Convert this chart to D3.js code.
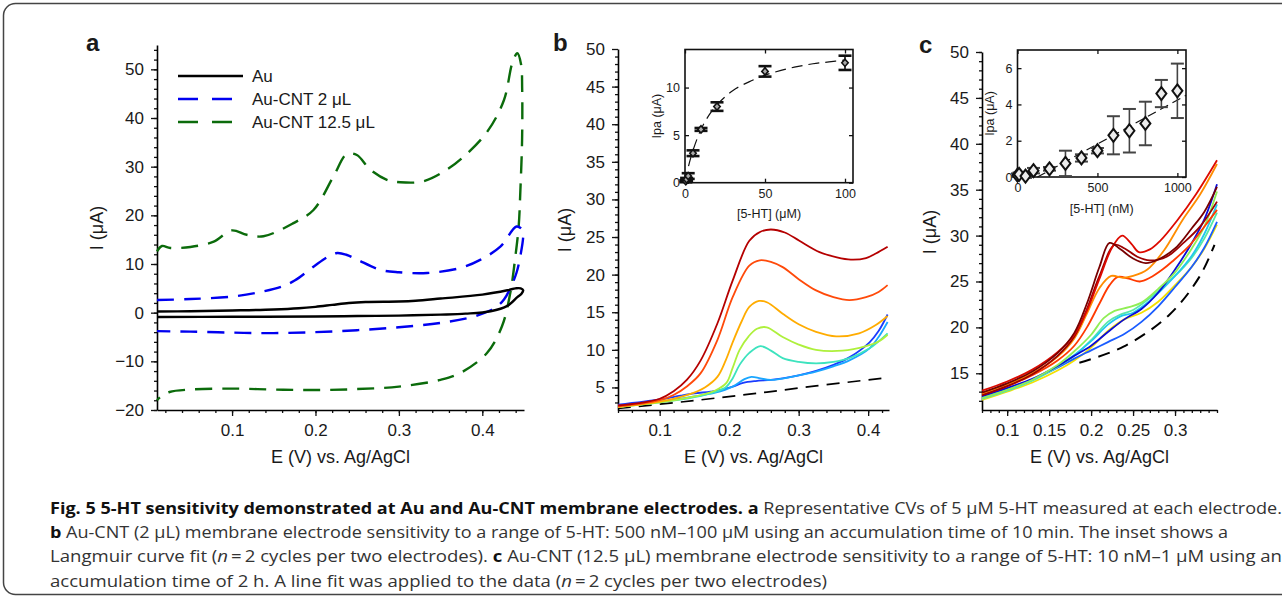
<!DOCTYPE html>
<html>
<head>
<meta charset="utf-8">
<script src="https://cdn.jsdelivr.net/npm/d3@7"></script>
<style>
body { margin: 0; background: #fff; }
svg text { font-family: "Liberation Sans", Arial, sans-serif; fill: #1a1a1a; }
.cap text, text.cap { font-family: "Open Sans", "Noto Sans", sans-serif; }
</style>
</head>
<body>
<div id="chart"></div>
<script>
// ---------- panel a : CVs (E in V, I in uA), points in scan order ----------
const aAu = [[0.01,0.25],[0.05,0.3],[0.1,0.45],[0.15,0.65],[0.18,0.9],[0.2,1.2],[0.22,1.6],[0.24,2.0],[0.26,2.2],
  [0.3,2.3],[0.32,2.45],[0.35,2.9],[0.4,3.7],[0.43,4.6],[0.44,5.0],[0.446,5.0],[0.449,4.6],[0.447,3.9],[0.442,3.2],
  [0.43,1.4],[0.41,0.3],[0.38,-0.2],[0.35,-0.4],[0.3,-0.6],[0.25,-0.7],[0.2,-0.8],[0.1,-0.85],[0.01,-0.9]];
const aCnt2 = [[0.01,2.6],[0.05,2.8],[0.1,3.3],[0.135,4.3],[0.16,5.4],[0.175,6.6],[0.198,9.5],[0.215,11.5],[0.226,12.25],
  [0.237,11.9],[0.25,10.9],[0.278,8.8],[0.3,8.3],[0.334,8.15],[0.374,9.2],[0.398,10.9],[0.422,13.6],[0.441,17.7],
  [0.448,17.0],[0.449,15.7],[0.446,12.0],[0.441,8.2],[0.433,4.8],[0.426,2.7],[0.418,1.3],[0.41,0.5],[0.39,-0.8],
  [0.35,-2.1],[0.3,-3.0],[0.25,-3.6],[0.2,-4.0],[0.15,-4.2],[0.1,-4.1],[0.05,-3.9],[0.01,-3.8]];
const aCnt12 = [[0.01,12.6],[0.016,13.7],[0.026,13.3],[0.05,13.5],[0.078,14.6],[0.0996,16.9],[0.1176,16.0],[0.1376,15.7],
  [0.1736,18.4],[0.1976,21.1],[0.2216,28.0],[0.2376,32.6],[0.2496,32.4],[0.2656,29.4],[0.2856,27.3],[0.3016,26.8],
  [0.3296,27.0],[0.3576,29.4],[0.378,32.1],[0.406,37.2],[0.426,43.7],[0.436,51.3],[0.442,53.3],[0.4465,51.0],
  [0.4478,46.0],[0.4477,35.5],[0.4457,25.3],[0.4436,17.7],[0.4397,11.6],[0.4336,4.1],[0.4236,-2.8],[0.4056,-8.3],
  [0.3736,-12.4],[0.35,-13.8],[0.3,-15.2],[0.25,-15.7],[0.2,-15.9],[0.15,-15.8],[0.1,-15.6],[0.05,-15.8],
  [0.025,-16.3],[0.015,-17.2],[0.01,-18.0]];
const aNames = ["Au", "Au-CNT 2 \u03bcL", "Au-CNT 12.5 \u03bcL"];
const aXTicks = [0.1, 0.2, 0.3, 0.4];
const aYTicks = [-20, -10, 0, 10, 20, 30, 40, 50];

// ---------- panel b : 2 uL electrode, 5-HT series ----------
const bDark = [[0.04,2.6],[0.07,2.9],[0.1,3.5],[0.12,4.5],[0.139,6.0],[0.159,8.6],[0.183,13.5],[0.205,19.2],[0.229,24.5],
  [0.245,25.7],[0.26,26.0],[0.28,25.6],[0.301,24.5],[0.33,23.0],[0.355,22.3],[0.375,22.0],[0.397,22.2],[0.411,22.8],[0.428,23.7]];
const bRed = [[0.04,2.5],[0.07,2.8],[0.1,3.3],[0.12,4.0],[0.14,5.2],[0.159,6.9],[0.183,11.3],[0.205,17.0],[0.229,21.2],
  [0.244,21.9],[0.26,21.7],[0.277,21.0],[0.3,19.4],[0.325,17.9],[0.35,17.0],[0.373,16.6],[0.397,17.0],[0.415,17.7],[0.428,18.6]];
const bOrange = [[0.04,2.4],[0.1,3.1],[0.14,4.0],[0.165,5.0],[0.183,6.4],[0.195,8.6],[0.205,11.0],[0.218,13.8],[0.229,15.7],
  [0.243,16.5],[0.255,16.3],[0.277,14.8],[0.3,13.4],[0.325,12.4],[0.354,11.8],[0.387,12.2],[0.411,13.3],[0.428,14.5]];
const bLime = [[0.04,2.4],[0.1,3.0],[0.15,3.8],[0.18,4.6],[0.196,5.6],[0.205,7.6],[0.215,10.0],[0.228,11.8],[0.24,12.8],
  [0.254,13.0],[0.277,11.7],[0.3,10.7],[0.325,10.0],[0.363,9.9],[0.397,10.5],[0.415,11.1],[0.428,12.0]];
const bTeal = [[0.04,2.4],[0.1,3.0],[0.15,3.7],[0.18,4.4],[0.196,5.1],[0.205,6.2],[0.215,8.0],[0.229,9.6],[0.245,10.5],
  [0.26,9.9],[0.277,8.9],[0.3,8.4],[0.325,8.2],[0.35,8.4],[0.373,8.9],[0.402,10.2],[0.428,12.2]];
const bSky = [[0.04,2.5],[0.1,3.1],[0.15,3.8],[0.18,4.3],[0.205,5.1],[0.222,6.1],[0.232,6.4],[0.245,6.2],[0.26,6.0],
  [0.3,6.6],[0.325,7.1],[0.35,7.8],[0.373,8.6],[0.402,10.2],[0.415,11.7],[0.428,13.7]];
const bBlue = [[0.04,2.7],[0.1,3.4],[0.13,3.9],[0.15,4.2],[0.173,4.45],[0.19,4.7],[0.205,5.1],[0.22,5.6],[0.238,5.85],
  [0.26,6.0],[0.277,6.2],[0.3,6.6],[0.325,7.2],[0.35,8.0],[0.373,9.0],[0.402,11.0],[0.415,12.5],[0.428,14.7]];
const bBlank = [[0.04,2.2],[0.134,3.1],[0.229,4.1],[0.325,5.2],[0.428,6.3]];
const bXTicks = [0.1, 0.2, 0.3, 0.4];
const bYTicks = [5, 10, 15, 20, 25, 30, 35, 40, 45, 50];

// inset b: Ipa vs [5-HT] (uM)
const bConc = [0.5, 1, 2, 5, 10, 20, 50, 100];
const bIpa = [0.15, 0.35, 0.7, 3.1, 5.6, 8.0, 11.7, 12.6];
const bErr = [0.1, 0.15, 0.3, 0.3, 0.15, 0.45, 0.55, 0.75];
const bFit = [[0,0],[2,1.6],[5,3.4],[10,5.6],[15,7.1],[20,8.2],[30,9.7],[40,10.6],[50,11.3],[60,11.8],[70,12.2],
  [80,12.5],[90,12.7],[100,12.9]];

// ---------- panel c : 12.5 uL electrode ----------
const cDark1 = [[0.07,12.9],[0.1,13.9],[0.13,15.2],[0.16,17.2],[0.18,19.4],[0.195,22.6],[0.21,26.6],[0.222,29.2],[0.235,28.5],
  [0.25,27.5],[0.265,27.0],[0.28,27.4],[0.3,28.6],[0.32,30.8],[0.335,32.6],[0.35,35.3]];
const cDark2 = [[0.07,12.6],[0.1,13.6],[0.13,14.9],[0.16,16.9],[0.18,19.0],[0.195,22.0],[0.21,25.6],[0.228,29.0],[0.24,28.6],
  [0.255,27.7],[0.27,27.3],[0.29,27.7],[0.31,29.2],[0.33,31.0],[0.35,33.7]];
const cRed = [[0.07,13.1],[0.1,14.1],[0.13,15.4],[0.16,17.3],[0.18,19.2],[0.195,21.8],[0.21,25.3],[0.225,28.7],[0.237,30.0],
  [0.248,29.1],[0.257,28.2],[0.27,28.5],[0.282,29.4],[0.303,31.7],[0.325,34.5],[0.35,38.2]];
const cOrange = [[0.07,12.8],[0.1,13.8],[0.13,15.0],[0.16,16.8],[0.18,18.8],[0.195,21.5],[0.21,24.3],[0.224,25.6],[0.238,25.4],
  [0.25,25.6],[0.267,26.3],[0.287,28.4],[0.309,31.7],[0.33,34.5],[0.35,37.8]];
const cRedOr = [[0.07,12.7],[0.1,13.6],[0.13,14.8],[0.16,16.4],[0.18,18.0],[0.195,20.0],[0.21,22.6],[0.222,24.6],[0.232,25.5],
  [0.245,25.3],[0.258,25.0],[0.27,25.4],[0.285,26.3],[0.297,27.2],[0.318,29.0],[0.336,31.1],[0.35,32.8]];
const cLime = [[0.07,12.3],[0.1,13.2],[0.13,14.3],[0.16,15.9],[0.18,17.4],[0.2,19.2],[0.215,21.0],[0.228,21.8],[0.245,22.2],
  [0.26,22.7],[0.28,24.2],[0.3,26.0],[0.32,28.6],[0.335,31.0],[0.35,34.8]];
const cCyan = [[0.07,12.3],[0.1,13.2],[0.13,14.3],[0.16,15.8],[0.18,17.0],[0.2,18.5],[0.22,20.3],[0.235,21.2],[0.25,21.6],
  [0.27,22.9],[0.3,25.6],[0.32,27.8],[0.335,30.2],[0.35,33.4]];
const cAqua = [[0.07,12.2],[0.1,13.1],[0.13,14.2],[0.16,15.7],[0.18,16.9],[0.2,18.6],[0.22,20.6],[0.235,21.4],[0.25,21.9],
  [0.27,23.2],[0.3,25.6],[0.32,27.6],[0.335,29.7],[0.35,32.5]];
const cNavy = [[0.07,12.5],[0.1,13.4],[0.13,14.4],[0.16,15.8],[0.18,16.9],[0.2,18.0],[0.22,19.5],[0.24,20.9],[0.26,22.0],
  [0.28,23.8],[0.3,26.3],[0.32,29.2],[0.335,31.8],[0.35,35.6]];
const cBlue = [[0.07,12.4],[0.1,13.3],[0.13,14.3],[0.16,15.6],[0.18,16.6],[0.2,17.5],[0.22,18.4],[0.24,19.3],[0.26,20.6],
  [0.28,22.3],[0.3,24.4],[0.32,26.6],[0.335,28.7],[0.35,31.5]];
const cYellow = [[0.07,12.1],[0.1,13.0],[0.13,14.0],[0.16,15.3],[0.18,16.4],[0.2,17.8],[0.22,19.6],[0.24,20.9],[0.26,21.6],
  [0.28,22.8],[0.3,24.6],[0.32,26.6],[0.335,28.6],[0.35,31.2]];
const cBlank = [[0.186,16.15],[0.2386,17.9],[0.293,21.35],[0.329,25.5],[0.347,29.0]];
const cXTicks = [0.1, 0.15, 0.2, 0.25, 0.3];
const cYTicks = [15, 20, 25, 30, 35, 40, 45, 50];

// inset c: Ipa vs [5-HT] (nM)
const cConc = [0, 10, 50, 100, 200, 300, 400, 500, 600, 700, 800, 900, 1000];
const cIpa = [0.1, 0.15, 0.05, 0.35, 0.45, 0.75, 1.05, 1.45, 2.3, 2.55, 2.95, 4.6, 4.75];
const cErr = [0.1, 0.1, 0.1, 0.15, 0.1, 0.7, 0.2, 0.15, 1.05, 1.2, 1.2, 0.75, 1.5];
const cFit = [[125, 0], [1054, 4.5]];

const captionLines = [
  [["b", "Fig. 5 5-HT sensitivity demonstrated at Au and Au-CNT membrane electrodes. a"], ["", " Representative CVs of 5 \u03bcM 5-HT measured at each electrode."]],
  [["b", "b"], ["", " Au-CNT (2 \u03bcL) membrane electrode sensitivity to a range of 5-HT: 500 nM\u2013100 \u03bcM using an accumulation time of 10 min. The inset shows a"]],
  [["", "Langmuir curve fit ("], ["i", "n"], ["", "\u2009=\u20092 cycles per two electrodes). "], ["b", "c"], ["", " Au-CNT (12.5 \u03bcL) membrane electrode sensitivity to a range of 5-HT: 10 nM\u20131 \u03bcM using an"]],
  [["", "accumulation time of 2 h. A line fit was applied to the data ("], ["i", "n"], ["", "\u2009=\u20092 cycles per two electrodes)"]]
];

// ---------- drawing ----------
const W = 1282, H = 599;
const svg = d3.select("#chart").append("svg").attr("width", W).attr("height", H);

svg.append("rect").attr("x", 3.5).attr("y", 3.5).attr("width", 1300).attr("height", 591)
  .attr("rx", 12).attr("fill", "none").attr("stroke", "#444").attr("stroke-width", 1.5);

function minorRange(a, b, step) {
  const out = [];
  for (let v = a; v <= b + step / 10; v += step) out.push(+v.toFixed(4));
  return out;
}

function mainAxes(x, y, xTicks, yTicks, xMinor, yMinor, fmtX, title) {
  const [x0] = x.range();
  const [y0] = y.range();
  svg.append("g").attr("transform", `translate(0,${y0})`)
    .call(d3.axisBottom(x).tickValues(xMinor).tickSize(3).tickFormat("").tickSizeOuter(0))
    .call(g => g.select(".domain").remove());
  svg.append("g").attr("transform", `translate(${x0},0)`)
    .call(d3.axisLeft(y).tickValues(yMinor).tickSize(3).tickFormat("").tickSizeOuter(0))
    .call(g => g.select(".domain").remove());
  const xa = svg.append("g").attr("transform", `translate(0,${y0})`)
    .call(d3.axisBottom(x).tickValues(xTicks).tickSize(6).tickPadding(8).tickSizeOuter(0).tickFormat(fmtX));
  const ya = svg.append("g").attr("transform", `translate(${x0},0)`)
    .call(d3.axisLeft(y).tickValues(yTicks).tickSize(6).tickPadding(7).tickSizeOuter(0).tickFormat(d3.format("d")));
  for (const a of [xa, ya]) {
    a.selectAll("text").style("font-size", "17px").style("font-family", "'Liberation Sans', Arial, sans-serif").attr("fill", "#1a1a1a");
    a.select(".domain").attr("stroke-width", 1.6);
  }
  svg.selectAll(".tick line").attr("stroke", "#111").attr("stroke-width", 1.3);
  const [xa0, xa1] = x.range();
  svg.append("text").attr("x", (xa0 + xa1) / 2 + title.dx).attr("y", 463).attr("text-anchor", "middle")
    .style("font-size", "18px").text("E (V) vs. Ag/AgCl");
  svg.append("text").attr("transform", `translate(${title.yx},${title.yy}) rotate(-90)`).attr("text-anchor", "middle")
    .style("font-size", "18px").text("I (\u03bcA)");
}

function curve(x, y, pts, color, width, dash) {
  const line = d3.line().x(d => x(d[0])).y(d => y(d[1])).curve(d3.curveCatmullRom.alpha(0.5));
  svg.append("path").datum(pts).attr("d", line).attr("fill", "none").attr("stroke", color)
    .attr("stroke-width", width).attr("stroke-dasharray", dash || null).attr("stroke-linejoin", "round");
}

function panelLetter(txt, x, y) {
  svg.append("text").attr("x", x).attr("y", y).style("font-size", "24px").style("font-weight", "bold").text(txt);
}

function inset(box, xDom, yDom, xTicks, yTicks, xLabel, lblPos) {
  const x = d3.scaleLinear(xDom, [box.x0, box.x1]);
  const y = d3.scaleLinear(yDom, [box.y1, box.y0]);
  const fmt = d3.format("d");
  svg.append("rect").attr("x", box.x0).attr("y", box.y0).attr("width", box.x1 - box.x0).attr("height", box.y1 - box.y0)
    .attr("fill", "#fff").attr("stroke", "#111").attr("stroke-width", 1.6);
  const bx = svg.append("g").attr("transform", `translate(0,${box.y1})`)
    .call(d3.axisBottom(x).tickValues(xTicks).tickSize(-4).tickPadding(6).tickSizeOuter(0).tickFormat(fmt));
  const tx = svg.append("g").attr("transform", `translate(0,${box.y0})`)
    .call(d3.axisTop(x).tickValues(xTicks).tickSize(-4).tickFormat("").tickSizeOuter(0));
  const ly = svg.append("g").attr("transform", `translate(${box.x0},0)`)
    .call(d3.axisLeft(y).tickValues(yTicks).tickSize(-4).tickPadding(5).tickSizeOuter(0).tickFormat(fmt));
  const ry = svg.append("g").attr("transform", `translate(${box.x1},0)`)
    .call(d3.axisRight(y).tickValues(yTicks).tickSize(-4).tickFormat("").tickSizeOuter(0));
  for (const a of [bx, tx, ly, ry]) {
    a.select(".domain").remove();
    a.selectAll("line").attr("stroke", "#111").attr("stroke-width", 1.3);
    a.selectAll("text").style("font-size", "12.5px").style("font-family", "'Liberation Sans', Arial, sans-serif").attr("fill", "#1a1a1a");
  }
  svg.append("text").attr("x", (box.x0 + box.x1) / 2).attr("y", lblPos.xy).attr("text-anchor", "middle")
    .style("font-size", "12.5px").text(xLabel);
  svg.append("text").attr("transform", `translate(${lblPos.yx},${(box.y0 + box.y1) / 2}) rotate(-90)`)
    .attr("text-anchor", "middle").style("font-size", "12.5px").text("Ipa (\u03bcA)");
  return { x, y };
}

function errorPoints(sc, conc, val, err, opt) {
  const g = svg.append("g");
  conc.forEach((c, i) => {
    const cx = sc.x(c);
    g.append("line").attr("x1", cx).attr("x2", cx).attr("y1", sc.y(val[i] - err[i])).attr("y2", sc.y(val[i] + err[i]))
      .attr("stroke", opt.barColor).attr("stroke-width", opt.barWidth);
    for (const v of [val[i] - err[i], val[i] + err[i]]) {
      g.append("line").attr("x1", cx - opt.cap).attr("x2", cx + opt.cap).attr("y1", sc.y(v)).attr("y2", sc.y(v))
        .attr("stroke", opt.barColor).attr("stroke-width", opt.capWidth);
    }
  });
  const dw = opt.dw, dh = opt.dh;
  g.selectAll("path").data(conc).enter().append("path")
    .attr("d", `M0,${-dh}L${dw},0L0,${dh}L${-dw},0Z`)
    .attr("transform", (c, i) => `translate(${sc.x(c)},${sc.y(val[i])})`)
    .attr("fill", opt.fill).attr("stroke", "#111").attr("stroke-width", opt.stroke);
}

// ----- panel a -----
(function () {
  const x = d3.scaleLinear([0.01, 0.45], [157, 524]);
  const y = d3.scaleLinear([-20, 55], [410, 45]);
  mainAxes(x, y, aXTicks, aYTicks, minorRange(0.02, 0.44, 0.02), minorRange(-20, 54, 2), d3.format(".1f"),
    { dx: 0, yx: 103, yy: 228 });
  curve(x, y, aCnt12, "#0b6b0b", 2.4, "17,10");
  curve(x, y, aCnt2, "#0000f0", 2.4, "17,10");
  curve(x, y, aAu, "#000", 2.4);
  panelLetter("a", 86, 51);
  const colors = ["#000", "#0000f0", "#0b6b0b"];
  const dashes = [null, "20,14", "20,14"];
  aNames.forEach((n, i) => {
    const ly = 76 + i * 23;
    svg.append("line").attr("x1", 178).attr("x2", 243).attr("y1", ly).attr("y2", ly)
      .attr("stroke", colors[i]).attr("stroke-width", 2.4).attr("stroke-dasharray", dashes[i]);
    svg.append("text").attr("x", 252).attr("y", ly + 6).style("font-size", "17px").text(n);
  });
})();

// ----- panel b -----
(function () {
  const x = d3.scaleLinear([0.04, 0.43], [618, 889]);
  const y = d3.scaleLinear([2, 50], [410, 49]);
  mainAxes(x, y, bXTicks, bYTicks, minorRange(0.04, 0.42, 0.02), minorRange(3, 49, 1), d3.format(".1f"),
    { dx: 0, yx: 571, yy: 230 });
  curve(x, y, bBlank, "#000", 1.7, "13,8");
  const series = [[bBlue, "#1a3cff"], [bSky, "#1aa6ff"], [bTeal, "#3de3be"], [bLime, "#aef03c"],
    [bOrange, "#ffac00"], [bRed, "#ff4a0a"], [bDark, "#b50000"]];
  for (const [pts, col] of series) curve(x, y, pts, col, 1.8);
  panelLetter("b", 553, 51);
  const sc = inset({ x0: 685, x1: 853, y0: 49.5, y1: 182.7 }, [0, 105], [0, 14], [0, 50, 100], [0, 5, 10],
    "[5-HT] (\u03bcM)", { xy: 218, yx: 661 });
  curve(sc.x, sc.y, bFit, "#111", 1.2, "11,6");
  errorPoints(sc, bConc, bIpa, bErr, { barColor: "#111", barWidth: 1.6, cap: 6.5, capWidth: 2.6, dw: 3.2, dh: 3.6, fill: "#aaa", stroke: 1.6 });
})();

// ----- panel c -----
(function () {
  const x = d3.scaleLinear([0.07, 0.35], [982, 1217]);
  const y = d3.scaleLinear([11, 50], [410, 52]);
  mainAxes(x, y, cXTicks, cYTicks, minorRange(0.07, 0.35, 0.01), minorRange(12, 50, 1), d => String(d),
    { dx: 0, yx: 936, yy: 232 });
  curve(x, y, cBlank, "#000", 2, "12,8");
  const series = [[cYellow, "#f2e000"], [cBlue, "#1a5cff"], [cAqua, "#55e8a8"], [cCyan, "#22c8ee"], [cNavy, "#0a0ad8"],
    [cLime, "#90ee55"], [cRedOr, "#ff3a00"], [cOrange, "#ff8c00"], [cDark2, "#9c0000"], [cRed, "#dd0a00"], [cDark1, "#780000"]];
  for (const [pts, col] of series) curve(x, y, pts, col, 1.8);
  panelLetter("c", 919, 53);
  const sc = inset({ x0: 1017.5, x1: 1186, y0: 50, y1: 177 }, [0, 1054], [0, 7], [0, 500, 1000], [0, 2, 4, 6],
    "[5-HT] (nM)", { xy: 213, yx: 994 });
  curve(sc.x, sc.y, cFit, "#111", 1.2, "9,5");
  errorPoints(sc, cConc, cIpa, cErr, { barColor: "#444", barWidth: 1.6, cap: 6.5, capWidth: 2, dw: 5, dh: 6.5, fill: "#ececec", stroke: 2 });
})();

// ----- caption -----
const capY = [514, 538, 562, 587];
const capW = [1232, 1178, 1232, 777];
captionLines.forEach((parts, i) => {
  const t = svg.append("text").attr("class", "cap").attr("x", 50).attr("y", capY[i])
    .style("font-size", "16px").attr("textLength", capW[i]).attr("lengthAdjust", "spacingAndGlyphs");
  for (const [style, s] of parts) {
    const ts = t.append("tspan").text(s).attr("fill", style === "b" ? "#111" : "#333");
    if (style === "b") ts.style("font-weight", "bold");
    if (style === "i") ts.style("font-style", "italic");
  }
});
</script>
</body>
</html>
